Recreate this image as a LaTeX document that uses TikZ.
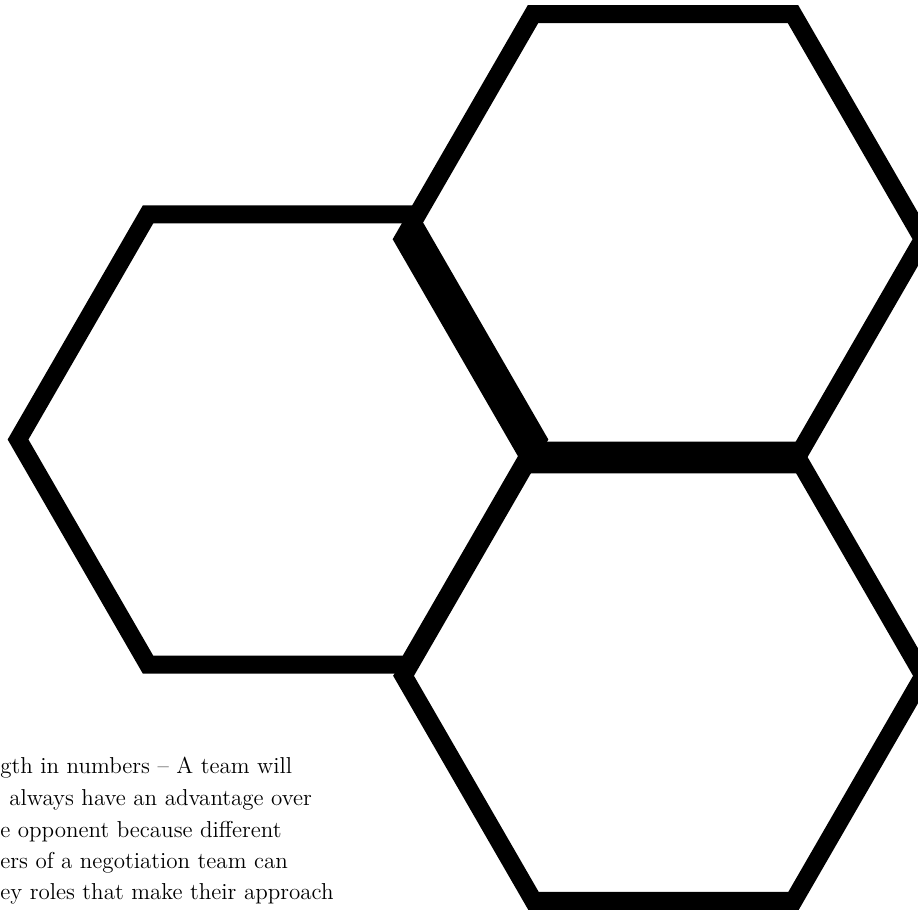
\documentclass[tikz,border=0pt]{standalone}
\usetikzlibrary{shapes.geometric}

\begin{document}
\begin{tikzpicture}[x=0.02cm,y=-0.02cm,
    hexagon/.style={regular polygon,regular polygon sides=6,draw=black,line width=0.36cm,minimum size=10.4cm,inner sep=0pt,outer sep=0pt},
    caption/.style={anchor=base west,inner sep=0pt,font=\fontsize{13.1}{16}\selectfont}
]
\useasboundingbox (0,0) rectangle (918,913);

% Honeycomb of three cells
\node[hexagon] (hex-left) at (278,439.5) {};
\node[hexagon] (hex-top) at (663,239.2) {};
\node[hexagon] (hex-bottom) at (663.5,675.8) {};

% Text block, cut off at the left edge
\node[caption] (line1) at (0,773) {gth in numbers – A team will};
\node[caption] (line2) at (9,805) {always have an advantage over};
\node[caption] (line3) at (0,837) {e opponent because different};
\node[caption] (line4) at (0,868) {ers of a negotiation team can};
\node[caption] (line5) at (0,899) {ey roles that make their approach};

\end{tikzpicture}
\end{document}
